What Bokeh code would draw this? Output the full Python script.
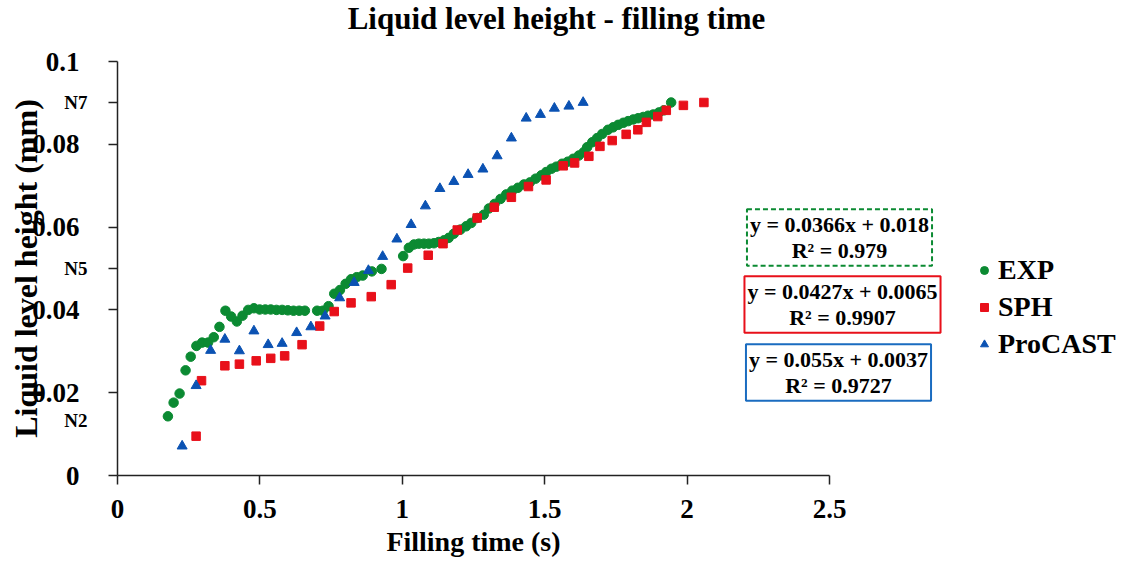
from bokeh.plotting import figure
from bokeh.models import (Range1d, FixedTicker, Label, Legend, LegendItem)
from bokeh.embed import file_html
from bokeh.resources import INLINE

# ---------------- data ----------------
exp_x = [0.177, 0.197, 0.218, 0.239, 0.257, 0.277, 0.297, 0.318, 0.338, 0.358,
         0.379, 0.399, 0.419, 0.439, 0.459, 0.479, 0.499, 0.519, 0.538, 0.558,
         0.578, 0.598, 0.618, 0.638, 0.658, 0.701, 0.721, 0.741, 0.761, 0.781,
         0.801, 0.820, 0.840, 0.861, 0.893, 0.927, 1.003, 1.023, 1.041, 1.058,
         1.076, 1.093, 1.111, 1.128, 1.146, 1.163, 1.181, 1.204, 1.224, 1.242,
         1.263, 1.286, 1.304, 1.324, 1.345, 1.365, 1.386, 1.406, 1.427, 1.448,
         1.468, 1.488, 1.505, 1.524, 1.541, 1.561, 1.581, 1.600, 1.620, 1.637,
         1.649, 1.667, 1.684, 1.702, 1.722, 1.740, 1.758, 1.776, 1.793, 1.811,
         1.828, 1.846, 1.863, 1.881, 1.901, 1.918, 1.944]
exp_y = [0.0143, 0.0176, 0.0198, 0.0254, 0.0287, 0.0313, 0.0321, 0.0321, 0.0334, 0.0359,
         0.0398, 0.0384, 0.0372, 0.0386, 0.0400, 0.0404, 0.0401, 0.0401, 0.0401, 0.0400,
         0.0400, 0.0399, 0.0398, 0.0398, 0.0398, 0.0398, 0.0398, 0.0409, 0.0439, 0.0448,
         0.0463, 0.0474, 0.0479, 0.0483, 0.0493, 0.0499, 0.0530, 0.0550, 0.0558, 0.0560,
         0.0560, 0.0560, 0.0561, 0.0564, 0.0568, 0.0574, 0.0584, 0.0594, 0.0602, 0.0610,
         0.0622, 0.0630, 0.0645, 0.0656, 0.0668, 0.0679, 0.0688, 0.0695, 0.0703, 0.0708,
         0.0717, 0.0725, 0.0733, 0.0741, 0.0746, 0.0753, 0.0758, 0.0765, 0.0773, 0.0781,
         0.0793, 0.0805, 0.0815, 0.0825, 0.0835, 0.0841, 0.0847, 0.0852, 0.0856, 0.0860,
         0.0863, 0.0866, 0.0869, 0.0872, 0.0877, 0.0882, 0.0901]

sph_x = [0.276, 0.295, 0.377, 0.428, 0.487, 0.538, 0.587, 0.648, 0.710, 0.761,
         0.820, 0.891, 0.961, 1.019, 1.091, 1.143, 1.193, 1.263, 1.323, 1.383,
         1.443, 1.505, 1.565, 1.605, 1.655, 1.694, 1.737, 1.786, 1.827, 1.857,
         1.897, 1.927, 1.987, 2.059]
sph_y = [0.0095, 0.0229, 0.0265, 0.0269, 0.0277, 0.0283, 0.0289, 0.0316, 0.0361, 0.0396,
         0.0417, 0.0432, 0.0461, 0.0501, 0.0532, 0.0560, 0.0593, 0.0622, 0.0648, 0.0672,
         0.0698, 0.0714, 0.0748, 0.0755, 0.0771, 0.0795, 0.0809, 0.0824, 0.0835, 0.0853,
         0.0867, 0.0882, 0.0894, 0.0901]

pro_x = [0.227, 0.276, 0.327, 0.377, 0.428, 0.479, 0.529, 0.578, 0.629, 0.679,
         0.729, 0.780, 0.831, 0.881, 0.931, 0.981, 1.031, 1.081, 1.132, 1.181,
         1.231, 1.283, 1.333, 1.383, 1.435, 1.485, 1.534, 1.585, 1.635]
pro_y = [0.0071, 0.0217, 0.0302, 0.0329, 0.0301, 0.0349, 0.0316, 0.0319, 0.0345, 0.0359,
         0.0385, 0.0429, 0.0466, 0.0495, 0.0529, 0.0571, 0.0606, 0.0651, 0.0693, 0.0710,
         0.0727, 0.0740, 0.0772, 0.0815, 0.0863, 0.0872, 0.0887, 0.0892, 0.0901]

series_names = ["EXP", "SPH", "ProCAST"]
fit_texts = ["y = 0.0366x + 0.018\nR\u00b2 = 0.979",
             "y = 0.0427x + 0.0065\nR\u00b2 = 0.9907",
             "y = 0.055x + 0.0037\nR\u00b2 = 0.9727"]

x_ticks = [0, 0.5, 1, 1.5, 2, 2.5]
x_tick_labels = ["0", "0.5", "1", "1.5", "2", "2.5"]
y_ticks = [0, 0.02, 0.04, 0.05, 0.06, 0.08, 0.09, 0.1]
y_tick_labels = ["0", "0.02", "0.04", "", "0.06", "0.08", "", "0.1"]
n_labels = ["N7", "N5", "N2"]
n_values = [0.09, 0.05, 0.0133]

title_text = "Liquid level height - filling time"
x_title = "Filling time (s)"
y_title = "Liquid level height (mm)"

# ---------------- layout ----------------
W, H = 1121, 562
AX_LEFT, AX_RIGHT = 117, 829      # pixel columns of x = 0 and x = 2.5
AX_TOP, AX_BOTTOM = 61, 475       # pixel rows of y = 0.1 and y = 0
XMIN, XMAX, YMIN, YMAX = 0, 2.5, 0, 0.1
sx = (AX_RIGHT - AX_LEFT) / (XMAX - XMIN)
sy = (AX_BOTTOM - AX_TOP) / (YMAX - YMIN)
x_range = Range1d(XMIN - AX_LEFT / sx, XMIN + (W - AX_LEFT) / sx)
y_range = Range1d(YMIN - (H - AX_BOTTOM) / sy, YMIN + AX_BOTTOM / sy)

FONT = "Liberation Serif"
GREEN = "#0b8a32"
RED = "#e8101a"
BLUE = "#0b52b3"

p = figure(width=W, height=H, output_backend="svg", toolbar_location=None,
           x_range=x_range, y_range=y_range,
           min_border=0, min_border_left=0, min_border_right=0,
           min_border_top=0, min_border_bottom=0, title=None)
p.outline_line_color = None
p.grid.visible = False
p.background_fill_color = "white"
p.border_fill_color = "white"

r_exp = p.scatter(exp_x, exp_y, marker="circle", size=9.5, fill_color=GREEN, line_color=GREEN)
r_sph = p.scatter(sph_x, sph_y, marker="square", size=8.5, fill_color=RED, line_color=RED)
r_pro = p.scatter(pro_x, pro_y, marker="triangle", size=10, fill_color=BLUE, line_color=BLUE)

for ax in (p.xaxis[0], p.yaxis[0]):
    ax.fixed_location = 0
    ax.axis_line_color = "#222222"
    ax.axis_line_width = 1.5
    ax.major_tick_line_color = "#222222"
    ax.major_tick_line_width = 1.5
    ax.major_tick_in = 0
    ax.major_tick_out = 9
    ax.minor_tick_line_color = None
    ax.major_label_text_font = FONT
    ax.major_label_text_font_style = "bold"
    ax.major_label_text_font_size = "27px"
    ax.major_label_text_color = "black"
    ax.axis_label_text_font = FONT
    ax.axis_label_text_font_style = "bold"
    ax.axis_label_text_color = "black"

p.xaxis.bounds = (XMIN, XMAX)
p.xaxis.ticker = FixedTicker(ticks=x_ticks)
p.xaxis.major_label_overrides = {float(t): l for t, l in zip(x_ticks, x_tick_labels)}
p.xaxis.major_label_standoff = 15
p.xaxis.axis_label = x_title
p.xaxis.axis_label_text_font_size = "28px"
p.xaxis.axis_label_standoff = 5

p.yaxis.bounds = (YMIN, YMAX)
p.yaxis.ticker = FixedTicker(ticks=y_ticks)
p.yaxis.major_label_overrides = {float(t): l for t, l in zip(y_ticks, y_tick_labels)}
p.yaxis.major_label_standoff = 29
p.yaxis.axis_label = y_title
p.yaxis.axis_label_text_font_size = "32px"
p.yaxis.axis_label_standoff = -15

# N-level labels beside the y axis
for txt, val in zip(n_labels, n_values):
    p.add_layout(Label(x=87, y=val, x_units="screen", y_units="data", text=txt,
                       text_align="right", text_baseline="middle",
                       text_font=FONT, text_font_style="bold",
                       text_font_size="19px", text_color="black"))

# title
p.add_layout(Label(x=556, y=H - 18, x_units="screen", y_units="screen", text=title_text,
                   text_align="center", text_baseline="middle",
                   text_font=FONT, text_font_style="bold", text_font_size="31px",
                   text_color="black"))

# regression boxes (centres in canvas pixels, measured from the bottom)
box_pos = [(839, H - 237), (842, H - 304), (838, H - 372)]
box_colors = [GREEN, RED, "#1a6cc0"]
box_dash = ["5 3", "solid", "solid"]
for txt, (bx, by), c, d in zip(fit_texts, box_pos, box_colors, box_dash):
    p.add_layout(Label(x=bx, y=by, x_units="screen", y_units="screen", text=txt,
                       text_align="center", text_baseline="middle",
                       text_font=FONT, text_font_style="bold", text_font_size="22px",
                       text_color="black", text_line_height=1.02,
                       border_line_color=c, border_line_width=2, border_line_dash=d,
                       background_fill_color="white", padding=3))

legend = Legend(items=[LegendItem(label=series_names[0], renderers=[r_exp]),
                       LegendItem(label=series_names[1], renderers=[r_sph]),
                       LegendItem(label=series_names[2], renderers=[r_pro])],
                location=(974, H - 360), orientation="vertical",
                label_text_font=FONT, label_text_font_style="bold",
                label_text_font_size="28px", label_text_color="black",
                glyph_width=20, glyph_height=30, label_height=30,
                label_standoff=4, spacing=5, padding=0, margin=0,
                border_line_color=None, background_fill_alpha=0)
p.add_layout(legend, "center")

open("out.html", "w").write(file_html(p, INLINE))
